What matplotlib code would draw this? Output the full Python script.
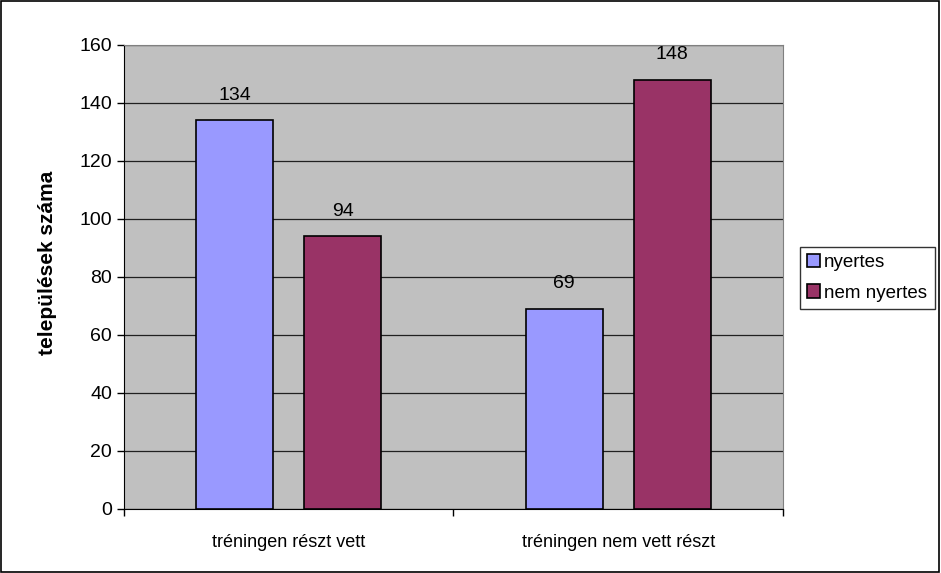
import matplotlib.pyplot as plt
import numpy as np
from matplotlib.patches import Rectangle

plt.rcParams['font.family'] = ['Liberation Sans', 'DejaVu Sans']

# data
categories = ["tréningen részt vett", "tréningen nem vett részt"]
nyertes = [134, 69]
nem_nyertes = [94, 148]
y_ticks = [0, 20, 40, 60, 80, 100, 120, 140, 160]

fig = plt.figure(figsize=(9.41, 5.73), dpi=100)
ax = fig.add_axes([0.1318, 0.1117, 0.7002, 0.8098])
ax.set_facecolor('#C0C0C0')

x = np.arange(len(categories))
w = 0.233
off = 0.164
b1 = ax.bar(x - off, nyertes, w, color='#9999FF', edgecolor='black', linewidth=1.2,
            label='nyertes', zorder=3)
b2 = ax.bar(x + off, nem_nyertes, w, color='#993366', edgecolor='black', linewidth=1.2,
            label='nem nyertes', zorder=3)
for bars in (b1, b2):
    ax.bar_label(bars, padding=12, fontsize=14)

ax.set_xlim(-0.5, 1.5)
ax.set_ylim(0, 160)
ax.set_yticks(y_ticks)
ax.set_xticks([-0.5, 0.5, 1.5])
ax.set_xticklabels([])
ax.set_xticks(x, minor=True)
ax.set_xticklabels(categories, minor=True, fontsize=13)
ax.tick_params(axis='x', which='minor', length=0, pad=18)
ax.tick_params(axis='x', which='major', length=5, direction='out', width=1)
ax.tick_params(axis='y', length=5, width=1, labelsize=14)
ax.yaxis.grid(True, color='#202020', linewidth=0.9, zorder=1)
ax.set_axisbelow(True)

ax.spines['left'].set_color('black')
ax.spines['bottom'].set_color('black')
ax.spines['top'].set_color('#808080')
ax.spines['right'].set_color('#808080')

ax.set_ylabel('települések száma', fontsize=15, fontweight='bold')
ax.yaxis.set_label_coords(-0.102, 0.53)

leg = fig.legend(loc='center left', bbox_to_anchor=(0.85, 0.515), fontsize=13.5,
                 frameon=True, fancybox=False, edgecolor='black',
                 handlelength=0.7, handleheight=0.7, handletextpad=0.2,
                 borderpad=0.4, labelspacing=0.7, borderaxespad=0)
leg.get_frame().set_linewidth(1)

fig.patches.append(Rectangle((0.001, 0.001), 0.997, 0.997, transform=fig.transFigure,
                             fill=False, edgecolor='black', linewidth=1.2))

fig.savefig('out.png', dpi=100)
